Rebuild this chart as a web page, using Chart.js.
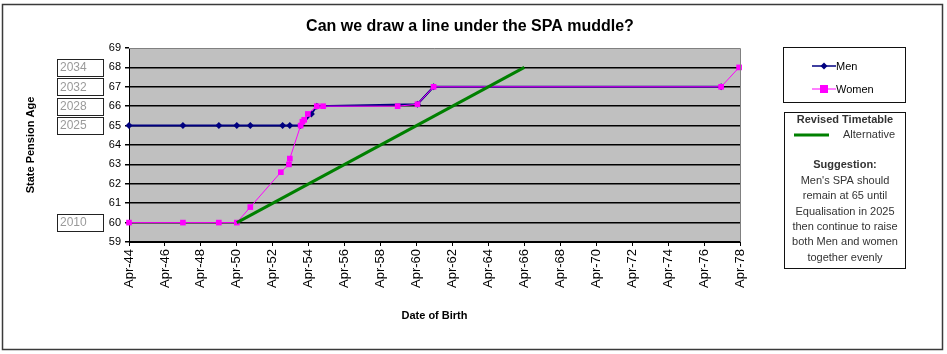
<!DOCTYPE html>
<html>
<head>
<meta charset="utf-8">
<script src="https://cdn.jsdelivr.net/npm/chart.js@4"></script>
<style>
  html, body { margin: 0; padding: 0; background: #fff; }
  #wrap { position: relative; width: 947px; height: 354px; }
</style>
</head>
<body>
<div id="wrap"><canvas id="spaChart" width="947" height="354"></canvas></div>
<script>
// tick labels on the date axis (one every two years, April)
const xTickLabels = ['Apr-44', 'Apr-46', 'Apr-48', 'Apr-50', 'Apr-52', 'Apr-54', 'Apr-56', 'Apr-58', 'Apr-60',
                     'Apr-62', 'Apr-64', 'Apr-66', 'Apr-68', 'Apr-70', 'Apr-72', 'Apr-74', 'Apr-76', 'Apr-78'];

// birth dates as decimal years, state pension age in years
const menBirth = [1944.25, 1947.25, 1949.25, 1950.25, 1951.0, 1952.8, 1953.2, 1953.8, 1954.4, 1954.7, 1960.3, 1961.2, 1977.2];
const menSPA   = [65, 65, 65, 65, 65, 65, 65, 65, 65.6, 66, 66.1, 67, 67];

const womenBirth = [1944.25, 1947.25, 1949.25, 1950.25, 1951.0, 1952.7, 1953.15, 1953.2, 1953.8, 1953.9, 1954.0,
                    1954.2, 1954.7, 1955.05, 1959.2, 1960.3, 1961.2, 1977.2, 1978.2];
const womenSPA   = [60, 60, 60, 60, 60.8, 62.6, 63.0, 63.3, 65.0, 65.2, 65.3, 65.6, 66, 66, 66, 66.1, 67, 67, 68];

const altBirth = [1950.25, 1966.25];
const altSPA   = [60, 68];

// year boxes beside the age axis
const yearBoxLabels = ['2034', '2032', '2028', '2025', '2010'];
const yearBoxAges   = [68, 67, 66, 65, 60];

const noteLines = ["Men's SPA should", 'remain at 65 until', 'Equalisation in 2025',
                   'then continue to raise', 'both Men and women', 'together evenly'];

const FONT = "'Liberation Sans', Arial, sans-serif";

function toPoints(xs, ys) {
    return xs.map((x, i) => ({ x: x, y: ys[i] }));
}

const xTickValues = xTickLabels.map(l => 1900 + parseInt(l.slice(4), 10) + 0.25);

const decor = {
    id: 'decor',
    beforeDraw(chart) {
        const ctx = chart.ctx;
        const a = chart.chartArea;
        ctx.save();
        // outer frame
        ctx.strokeStyle = '#3a3a3a';
        ctx.lineWidth = 1.5;
        ctx.strokeRect(2.5, 4.5, 940, 345);
        // title
        ctx.fillStyle = '#000';
        ctx.font = 'bold 16px ' + FONT;
        ctx.textAlign = 'center';
        ctx.textBaseline = 'middle';
        ctx.fillText('Can we draw a line under the SPA muddle?', 470, 27);
        // plot background
        ctx.fillStyle = '#C0C0C0';
        ctx.fillRect(a.left, a.top, a.right - a.left, a.bottom - a.top);
        ctx.restore();
    },
    afterDraw(chart) {
        const ctx = chart.ctx;
        const a = chart.chartArea;
        const yScale = chart.scales.y;
        ctx.save();
        // plot border top/right
        ctx.strokeStyle = '#808080';
        ctx.lineWidth = 1;
        ctx.beginPath();
        ctx.moveTo(a.left, a.top + 0.5);
        ctx.lineTo(a.right + 0.5, a.top + 0.5);
        ctx.lineTo(a.right + 0.5, a.bottom);
        ctx.stroke();

        // year boxes
        ctx.font = '12px ' + FONT;
        ctx.textBaseline = 'middle';
        ctx.textAlign = 'left';
        yearBoxLabels.forEach((lab, i) => {
            const y = yScale.getPixelForValue(yearBoxAges[i]);
            ctx.fillStyle = '#fff';
            ctx.fillRect(57, y - 8.5, 47, 17);
            ctx.strokeStyle = '#222';
            ctx.lineWidth = 1;
            ctx.strokeRect(57.5, Math.round(y - 8.5) + 0.5, 46, 17);
            ctx.fillStyle = '#9a9a9a';
            ctx.fillText(lab, 60, y + 0.5);
        });

        // legend box
        ctx.fillStyle = '#fff';
        ctx.fillRect(783, 47, 122, 55);
        ctx.strokeStyle = '#111';
        ctx.lineWidth = 1;
        ctx.strokeRect(783.5, 47.5, 122, 55);
        ctx.font = '11px ' + FONT;
        // Men
        ctx.strokeStyle = '#000080';
        ctx.lineWidth = 1.5;
        ctx.beginPath(); ctx.moveTo(812, 66); ctx.lineTo(836, 66); ctx.stroke();
        ctx.fillStyle = '#000080';
        ctx.beginPath();
        ctx.moveTo(824, 62.5); ctx.lineTo(827.5, 66); ctx.lineTo(824, 69.5); ctx.lineTo(820.5, 66);
        ctx.closePath(); ctx.fill();
        ctx.fillStyle = '#000';
        ctx.fillText('Men', 836, 66.5);
        // Women
        ctx.strokeStyle = '#FF00FF';
        ctx.lineWidth = 1;
        ctx.beginPath(); ctx.moveTo(812, 89); ctx.lineTo(836, 89); ctx.stroke();
        ctx.fillStyle = '#FF00FF';
        ctx.fillRect(820, 85, 8, 8);
        ctx.fillStyle = '#000';
        ctx.fillText('Women', 836, 89.5);

        // note box
        ctx.fillStyle = '#fff';
        ctx.fillRect(784, 112, 121, 156);
        ctx.strokeStyle = '#111';
        ctx.lineWidth = 1;
        ctx.strokeRect(784.5, 112.5, 121, 156);
        ctx.fillStyle = '#333';
        ctx.textAlign = 'center';
        ctx.font = 'bold 11px ' + FONT;
        ctx.fillText('Revised Timetable', 845, 120);
        ctx.strokeStyle = '#008000';
        ctx.lineWidth = 3;
        ctx.beginPath(); ctx.moveTo(794, 135); ctx.lineTo(829, 135); ctx.stroke();
        ctx.font = '11px ' + FONT;
        ctx.textAlign = 'right';
        ctx.fillText('Alternative', 895, 135);
        ctx.textAlign = 'center';
        ctx.font = 'bold 11px ' + FONT;
        ctx.fillText('Suggestion:', 845, 165);
        ctx.font = '11px ' + FONT;
        noteLines.forEach((t, i) => ctx.fillText(t, 845, 181 + i * 15.3));
        ctx.restore();
    }
};

const ctx = document.getElementById('spaChart').getContext('2d');
new Chart(ctx, {
    type: 'line',
    data: {
        datasets: [{
            label: 'Alternative',
            data: toPoints(altBirth, altSPA),
            borderColor: '#008000',
            borderWidth: 3,
            pointRadius: 0,
            order: 0
        }, {
            label: 'Women',
            data: toPoints(womenBirth, womenSPA),
            borderColor: '#FF00FF',
            backgroundColor: '#FF00FF',
            borderWidth: 1,
            pointStyle: 'rect',
            pointRadius: 4,
            pointBorderWidth: 0,
            clip: false,
            order: 1
        }, {
            label: 'Men',
            data: toPoints(menBirth, menSPA),
            borderColor: '#000080',
            backgroundColor: '#000080',
            borderWidth: 2,
            pointStyle: 'rectRot',
            pointRadius: 3.5,
            pointBorderWidth: 0,
            clip: false,
            order: 2
        }]
    },
    options: {
        responsive: false,
        animation: false,
        layout: { padding: { left: 20, right: 207, top: 48, bottom: 27 } },
        plugins: {
            legend: { display: false },
            tooltip: { enabled: false },
            title: { display: false }
        },
        scales: {
            x: {
                type: 'linear',
                min: 1944.25,
                max: 1978.25,
                afterBuildTicks: s => { s.ticks = xTickValues.map(v => ({ value: v })); },
                afterFit: s => { s.height = 85; },
                ticks: {
                    autoSkip: false,
                    minRotation: 90,
                    maxRotation: 90,
                    padding: 3,
                    color: '#000',
                    font: { family: FONT, size: 13 },
                    callback: (v, i) => xTickLabels[i]
                },
                grid: { drawOnChartArea: false, drawTicks: true, tickLength: 4, color: '#000' },
                border: { color: '#000', width: 1 },
                title: {
                    display: true,
                    text: 'Date of Birth',
                    color: '#000',
                    font: { family: FONT, size: 11, weight: 'bold' }
                }
            },
            y: {
                min: 59,
                max: 69,
                afterFit: s => { s.width = 109; },
                ticks: {
                    stepSize: 1,
                    padding: 4,
                    color: '#000',
                    font: { family: FONT, size: 11 }
                },
                grid: {
                    color: c => (c.tick && c.tick.value === 69) ? 'rgba(0,0,0,0)' : '#000',
                    lineWidth: 1.5,
                    tickLength: 4,
                    tickColor: '#000'
                },
                border: { color: '#000', width: 1 },
                title: {
                    display: true,
                    text: 'State Pension Age',
                    color: '#000',
                    font: { family: FONT, size: 11, weight: 'bold' }
                }
            }
        }
    },
    plugins: [decor]
});
</script>
</body>
</html>
